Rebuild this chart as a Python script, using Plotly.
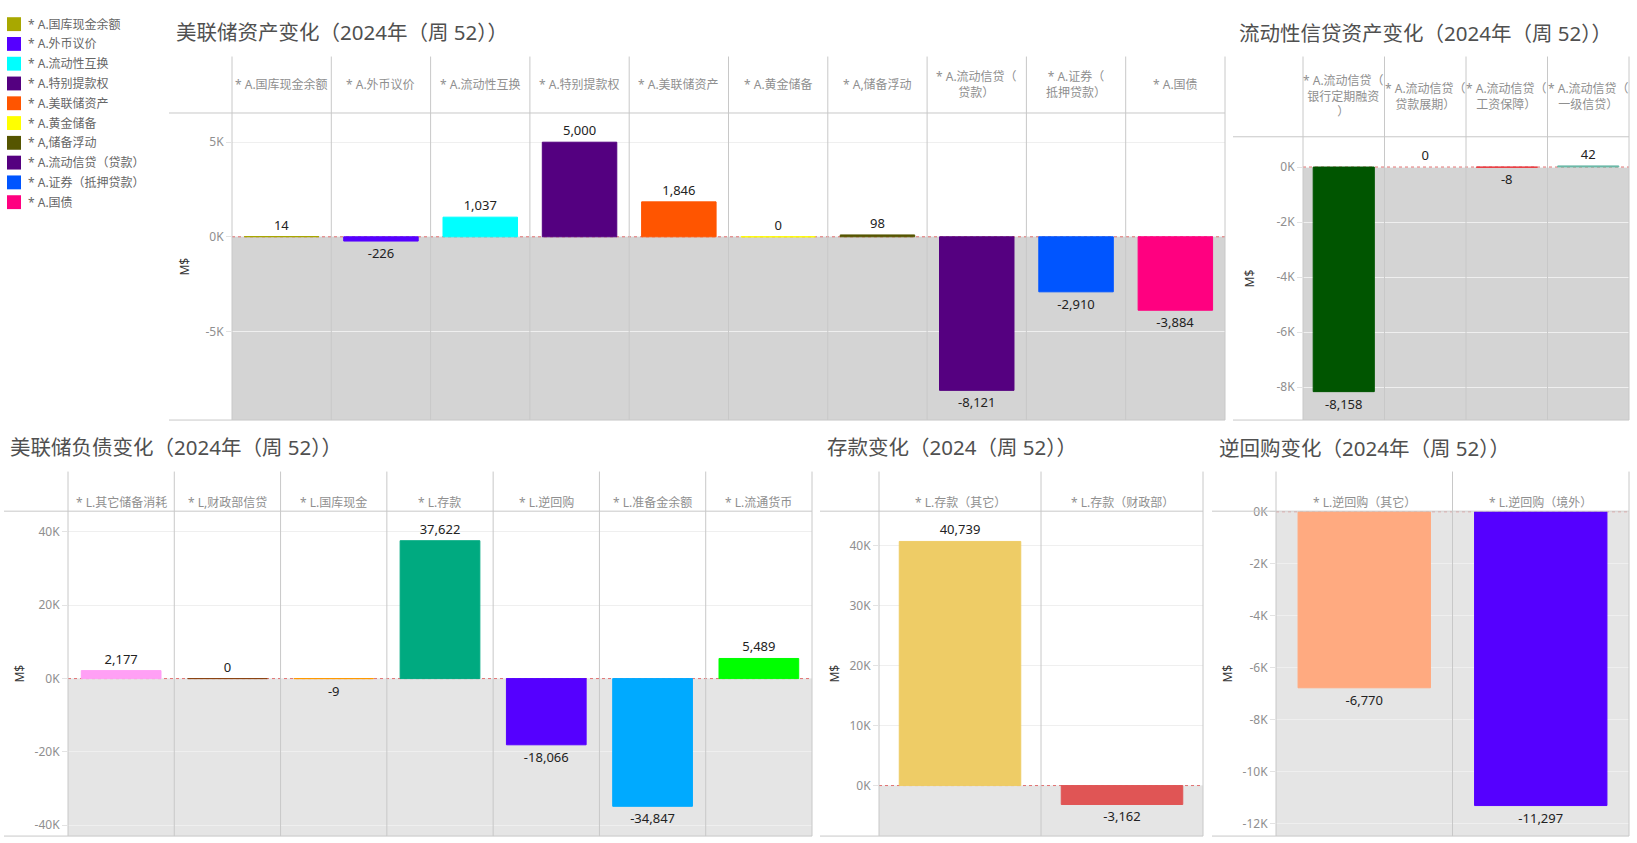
import plotly.graph_objects as go

W, H = 1637, 843

# ---------------- data ----------------
asset_cats = ["* A.国库现金余额", "* A.外币议价", "* A.流动性互换", "* A.特别提款权", "* A.美联储资产",
              "* A.黄金储备", "* A,储备浮动", "* A.流动信贷（贷款）", "* A.证券（抵押贷款）", "* A.国债"]
asset_headers = ["* A.国库现金余额", "* A.外币议价", "* A.流动性互换", "* A.特别提款权", "* A.美联储资产",
                 "* A.黄金储备", "* A,储备浮动", "* A.流动信贷（<br>贷款）", "* A.证券（<br>抵押贷款）", "* A.国债"]
asset_vals = [14, -226, 1037, 5000, 1846, 0, 98, -8121, -2910, -3884]
asset_colors = ["#a8a800", "#5500ff", "#00ffff", "#540080", "#ff5500",
                "#ffff00", "#555500", "#550080", "#0055ff", "#ff0080"]

credit_cats = ["* A.流动信贷（银行定期融资）", "* A.流动信贷（贷款展期）",
               "* A.流动信贷（工资保障）", "* A.流动信贷（一级信贷）"]
credit_headers = ["* A.流动信贷（<br>银行定期融资<br>）", "* A.流动信贷（<br>贷款展期）",
                  "* A.流动信贷（<br>工资保障）", "* A.流动信贷（<br>一级信贷）"]
credit_vals = [-8158, 0, -8, 42]
credit_colors = ["#005500", "rgba(0,0,0,0)", "#e8353a", "#6cb8a8"]

liab_cats = ["* L.其它储备消耗", "* L,财政部信贷", "* L.国库现金", "* L.存款",
             "* L.逆回购", "* L.准备金余额", "* L.流通货币"]
liab_vals = [2177, 0, -9, 37622, -18066, -34847, 5489]
liab_colors = ["#ffa0f5", "#8b4513", "#ff9900", "#00aa80", "#5500ff", "#00aaff", "#00ff00"]

dep_cats = ["* L.存款（其它）", "* L.存款（财政部）"]
dep_vals = [40739, -3162]
dep_colors = ["#eecc66", "#e05555"]

rrp_cats = ["* L.逆回购（其它）", "* L.逆回购（境外）"]
rrp_vals = [-6770, -11297]
rrp_colors = ["#ffaa80", "#5500ff"]

legend_labels = asset_cats
legend_colors = asset_colors

# ---------------- layout geometry (pixels) ----------------
panels = [
    dict(title="美联储资产变化（2024年（周 52））", tx=174, ty=24,
         cats=asset_cats, heads=asset_headers, vals=asset_vals, colors=asset_colors,
         left=232, right=1225, line_left=169, htop=49, ptop=106, pbot=416, head_y=77,
         yrange=[-9690, 6545], ticks=[-5000, 0, 5000], gray="#d4d4d4", mx=185),
    dict(title="流动性信贷资产变化（2024年（周 52））", tx=1237, ty=25,
         cats=credit_cats, heads=credit_headers, vals=credit_vals, colors=credit_colors,
         left=1303, right=1629, line_left=1233, htop=49, ptop=130, pbot=416, head_y=89,
         yrange=[-9190, 1100], ticks=[-8000, -6000, -4000, -2000, 0], gray="#d4d4d4", mx=1249),
    dict(title="美联储负债变化（2024年（周 52））", tx=8, ty=443,
         cats=liab_cats, heads=liab_cats, vals=liab_vals, colors=liab_colors,
         left=68, right=812, line_left=4, htop=468, ptop=508, pbot=836, head_y=499,
         yrange=[-42970, 45680], ticks=[-40000, -20000, 0, 20000, 40000], gray="#e5e5e5", mx=20),
    dict(title="存款变化（2024（周 52））", tx=825, ty=443,
         cats=dep_cats, heads=dep_cats, vals=dep_vals, colors=dep_colors,
         left=879, right=1203, line_left=820, htop=468, ptop=508, pbot=836, head_y=499,
         yrange=[-8430, 45790], ticks=[0, 10000, 20000, 30000, 40000], gray="#e5e5e5", mx=835),
    dict(title="逆回购变化（2024年（周 52））", tx=1217, ty=444,
         cats=rrp_cats, heads=rrp_cats, vals=rrp_vals, colors=rrp_colors,
         left=1276, right=1629, line_left=1212, htop=468, ptop=508, pbot=836, head_y=499,
         yrange=[-12470, 20], ticks=[-12000, -10000, -8000, -6000, -4000, -2000, 0], gray="#e5e5e5", mx=1228),
]

FONT = "Noto Sans, Noto Sans CJK SC, sans-serif"
LINE = "#c8c8c8"


def px(x):
    return x / W


def py(y):
    return 1 - y / H


fig = go.Figure()
shapes = []
annotations = []
layout_axes = {}

for i, p in enumerate(panels, start=1):
    xa = "x" if i == 1 else f"x{i}"
    ya = "y" if i == 1 else f"y{i}"
    n = len(p["cats"])
    fig.add_trace(go.Bar(
        x=p["cats"], y=p["vals"],
        marker=dict(color=p["colors"], line=dict(width=1, color=p["colors"])),
        width=0.75, text=[f"{v:,}" for v in p["vals"]], textposition="outside",
        textfont=dict(size=13, color="#222222", family=FONT), cliponaxis=False,
        constraintext="none", hoverinfo="skip", showlegend=False, xaxis=xa, yaxis=ya))

    layout_axes["xaxis" if i == 1 else f"xaxis{i}"] = dict(
        domain=[px(p["left"]), px(p["right"])], anchor=ya, type="category",
        range=[-0.5, n - 0.5], showticklabels=False, showgrid=False, zeroline=False,
        showline=False, ticks="", fixedrange=True)
    layout_axes["yaxis" if i == 1 else f"yaxis{i}"] = dict(
        domain=[py(p["pbot"]), py(p["ptop"])], anchor=xa, range=p["yrange"],
        tickvals=p["ticks"], ticktext=[f"{t // 1000}K" for t in p["ticks"]],
        tickfont=dict(size=12, color="#8f8f8f", family=FONT),
        showgrid=True, gridcolor="#efefef", gridwidth=1, zeroline=False, showline=False,
        ticks="outside", ticklen=5, tickcolor="#e3e3e3", fixedrange=True)

    # shaded band below zero
    shapes.append(dict(type="rect", xref=xa, yref=ya, x0=-0.5, x1=n - 0.5,
                       y0=p["yrange"][0], y1=0, fillcolor=p["gray"],
                       line=dict(width=0), layer="below"))
    # dotted zero line
    shapes.append(dict(type="line", xref=xa, yref=ya, x0=-0.5, x1=n - 0.5, y0=0, y1=0,
                       line=dict(color="#e07070", width=1, dash="dot"), layer="between"))

    # column separators
    cw = (p["right"] - p["left"]) / n
    for k in range(n + 1):
        xx = p["left"] + k * cw
        shapes.append(dict(type="line", xref="paper", yref="paper",
                           x0=px(xx), x1=px(xx), y0=py(p["pbot"]), y1=py(p["htop"]),
                           line=dict(color=LINE, width=1), layer="above"))
    for yy in (p["ptop"], p["pbot"]):
        shapes.append(dict(type="line", xref="paper", yref="paper",
                           x0=px(p["line_left"]), x1=px(p["right"]), y0=py(yy), y1=py(yy),
                           line=dict(color=LINE, width=1), layer="above"))

    # header labels
    for k, h in enumerate(p["heads"]):
        annotations.append(dict(xref="paper", yref="paper", x=px(p["left"] + (k + 0.5) * cw),
                                y=py(p["head_y"]), text=h, showarrow=False,
                                xanchor="center", yanchor="middle", align="center",
                                font=dict(size=12, color="#8f8f8f", family=FONT)))
    # title
    annotations.append(dict(xref="paper", yref="paper", x=px(p["tx"]), y=py(p["ty"]),
                            text=p["title"], showarrow=False, xanchor="left", yanchor="middle",
                            font=dict(size=20.5, color="#505050", family=FONT)))
    # axis title
    annotations.append(dict(xref="paper", yref="paper", x=px(p["mx"]),
                            y=py((p["ptop"] + p["pbot"]) / 2), text="M$", showarrow=False,
                            textangle=-90, xanchor="center", yanchor="middle",
                            font=dict(size=12, color="#333333", family=FONT)))

# legend (manual, top-left)
for k, (lab, col) in enumerate(zip(legend_labels, legend_colors)):
    cy = 16.3 + k * 19.97
    shapes.append(dict(type="rect", xref="paper", yref="paper", x0=px(7), x1=px(21),
                       y0=py(cy + 7), y1=py(cy - 7), fillcolor=col, line=dict(width=0)))
    annotations.append(dict(xref="paper", yref="paper", x=px(26), y=py(cy), text=lab,
                            showarrow=False, xanchor="left", yanchor="middle",
                            font=dict(size=12, color="#666666", family=FONT)))

fig.update_layout(
    width=W, height=H, margin=dict(l=0, r=0, t=0, b=0),
    paper_bgcolor="white", plot_bgcolor="rgba(0,0,0,0)",
    showlegend=False, bargap=0.25, font=dict(family=FONT),
    shapes=shapes, annotations=annotations, **layout_axes)

fig.write_html(
    "out.html",
    config={"displayModeBar": False},
    post_script=(
        "document.documentElement.style.margin='0';"
        "document.documentElement.style.overflow='hidden';"
        "document.body.style.margin='0';document.body.style.overflow='hidden';"
        "var d=document.getElementById('{plot_id}');"
        "d.style.position='absolute';d.style.top='0px';d.style.left='0px';"
    ),
)
